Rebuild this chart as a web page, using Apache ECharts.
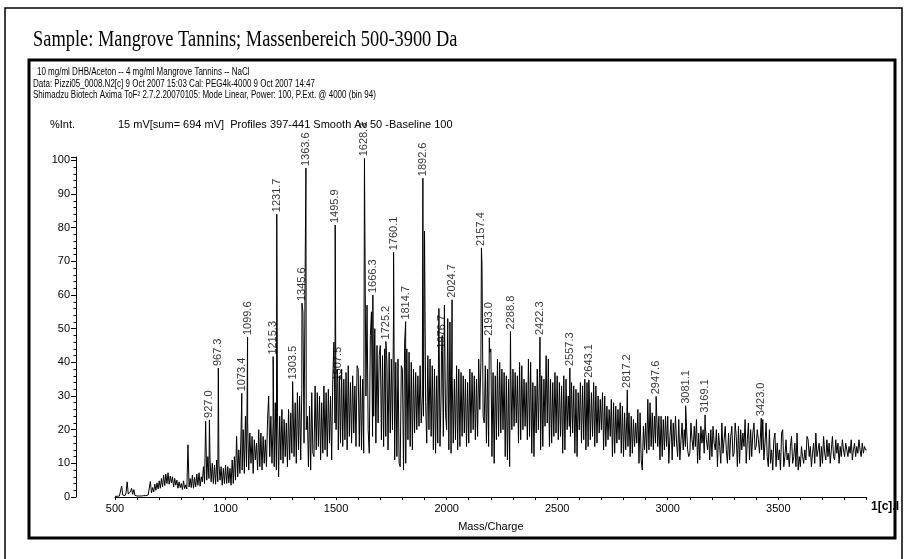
<!DOCTYPE html>
<html>
<head>
<meta charset="utf-8">
<script src="https://cdn.jsdelivr.net/npm/echarts@6/dist/echarts.min.js"></script>
<style>
html,body{margin:0;padding:0;background:#fff;}
#c{width:906px;height:559px;}
</style>
</head>
<body>
<div id="c"></div>
<script>
// ---- data ----
const noiseStart = 500;   // Da
const noiseStep = 5;      // Da
const noiseInt = [
  0.2,0.3,0.2,0.4,0.3,0.5,3.2,0.6,1.0,0.4, 1.2,4.5,0.9,0.6,1.5,2.6,0.8,2.2,0.5,0.3,
  0.3,0.5,0.3,0.4,0.3,0.5,0.4,0.6,0.4,0.5, 0.6,1.0,4.6,1.2,2.8,1.5,3.8,2.0,4.2,2.4,
  4.8,2.6,5.5,3.0,6.5,3.4,6.8,4.0,7.2,3.8, 6.2,4.2,6.0,3.0,5.5,3.5,5.0,2.6,4.5,2.8,
  4.0,2.2,4.8,2.5,3.6,2.4,15.5,3.0,5.5,2.8, 6.5,2.6,5.8,3.0,6.8,3.5,7.2,3.2,6.0,4.5,
  9.0,4.0,22.5,5.0,12.0,5.5,11.0,4.5,10.0,4.0, 9.5,3.8,11.0,4.5,10.0,5.0,9.0,3.5,8.5,4.0,
  9.5,4.0,9.0,4.2,8.5,3.5,11.0,4.0,12.0,5.0, 18.0,6.0,14.0,7.0,19.0,8.0,20.0,7.0,24.0,9.0,
  22,8,19,10,18,7,17,11,16,8, 20,9,19,8,18,10,17,9,23,30,
  12,24,10,22,9,28,8,25,6,24, 11,26,10,23,12,22,9,26,11,25,
  13,29,12,28,10,31,14,30,11,32, 55,16,67,20,24,9,27,8,31,13,
  12,33,14,31,15,30,11,28,13,33, 14,31,12,32,16,30,11,35,46,22,
  20,38,14,36,16,38,15,35,17,37, 14,39,18,34,16,36,19,33,15,39,
  38,15,36,14,35,13,82,30,57,20, 13,48,55,18,24,50,16,45,22,42,
  45,17,42,15,44,18,40,14,43,19, 41,20,55,11,40,12,41,10,9,39,
  38,8,46,10,44,17,43,15,40,14, 38,19,37,20,36,21,39,22,30,24,
  79,28,16,42,20,41,18,39,14,38, 13,36,16,56,15,30,48,18,57,25,
  20,53,14,52,13,36,16,35,17,39, 14,38,15,37,18,36,19,35,15,34,
  16,38,19,37,20,36,17,35,18,41, 26,40,69,24,22,39,16,38,15,43,
  44,12,37,10,36,17,41,18,40,19, 38,20,37,12,36,11,35,9,39,20,
  38,21,37,22,36,16,40,17,39,20, 35,21,34,17,41,18,40,13,34,12,
  33,19,38,20,37,14,36,15,35,21, 42,22,41,15,35,16,34,18,37,19,
  36,17,34,18,33,13,36,14,35,20, 30,21,18,34,19,33,13,32,12,31,
  20,34,16,33,17,35,14,34,15,32, 17,31,18,34,15,33,16,30,19,29,
  20,31,14,30,15,27,17,26,18,29, 12,28,13,27,16,26,17,28,13,27,
  12,25,14,24,15,25,12,24,13,23, 15,22,16,26,10,25,11,8,21,14,
  22,13,29,14,28,15,25,14,24,16, 25,15,24,11,24,12,23,14,24,15,
  24,10,18,23,11,22,15,24,16,12, 23,11,17,22,14,20,15,21,14,12,
  13,22,17,14,21,15,23,10,19,11, 21,16,20,13,21,17,14,19,11,20,
  12,21,16,14,20,9,19,15,10,22, 13,17,21,14,10,19,11,18,21,12,
  13,22,18,9,21,10,20,14,19,15, 23,10,17,22,11,20,12,19,22,14,
  15,20,17,13,19,14,23,11,16,22, 12,9,20,10,14,8,17,19,9,16,
  11,14,8,19,20,9,12,17,11,13, 9,15,18,10,12,16,9,19,8,12,
  9,15,12,10,14,11,18,17,12,15, 9,13,16,10,19,12,14,16,9,15,
  10,18,13,11,17,12,16,10,14,18, 12,11,17,13,16,10,15,12,17,14,
  12,16,14,12,15,13,17,11,14,16, 12,15,13,17,14,12,16,13,15,14,
  14
];
const peakMass = [927.0,967.3,1073.4,1099.6,1215.3,1231.7,1303.5,1345.6,1363.6,1495.9,1507.5,1628.3,1666.3,1725.2,1760.1,1814.7,1892.6,1976.7,2024.7,2157.4,2193.0,2288.8,2422.3,2557.3,2643.1,2817.2,2947.6,3081.1,3169.1,3423.0];
const peakInt  = [22.9,38.3,30.8,47.5,41.7,84,34.3,57.6,97.7,80.8,34,100.6,60,46.2,72.7,52.1,94.7,43.5,58.6,74,47.3,49.2,47.5,38.3,34.8,31.8,29.9,27.1,24.4,23.4];
const peakLabel = ["927.0","967.3","1073.4","1099.6","1215.3","1231.7","1303.5","1345.6","1363.6","1495.9","1507.5","1628.3","1666.3","1725.2","1760.1","1814.7","1892.6","1976.7","2024.7","2157.4","2193.0","2288.8","2422.3","2557.3","2643.1","2817.2","2947.6","3081.1","3169.1","3423.0"];
const xMin = 500, xMax = 3900, xTick = 100, xLabelEvery = 500;
const yMin = 0, yMax = 101, yTick = 10;

const titleText = "Sample: Mangrove Tannins; Massenbereich 500-3900 Da";
const headerLines = [
  "10 mg/ml DHB/Aceton -- 4 mg/ml Mangrove Tannins -- NaCl",
  "Data: Pizzi05_0008.N2[c] 9 Oct 2007 15:03 Cal: PEG4k-4000 9 Oct 2007 14:47",
  "Shimadzu Biotech Axima ToF\u00B2 2.7.2.20070105: Mode Linear, Power: 100, P.Ext. @ 4000 (bin 94)"
];
const yName = "%Int.";
const infoLine = "15 mV[sum= 694 mV]  Profiles 397-441 Smooth Av 50 -Baseline 100";
const xName = "Mass/Charge";
const cornerTag = "1[c].I";

// ---- build series ----
const pts = [];
noiseInt.forEach((v, i) => pts.push([noiseStart + i * noiseStep, v]));
peakMass.forEach((m, i) => pts.push([m, peakInt[i]]));
pts.sort((a, b) => a[0] - b[0]);
const peakPts = peakMass.map((m, i) => ({ value: [m, peakInt[i]], name: peakLabel[i] }));

const chart = echarts.init(document.getElementById('c'), null, { renderer: 'canvas' });
const FONT = 'Liberation Sans, Arial, sans-serif';
const plotTop = 157, plotH = 340;
chart.setOption({
  animation: false,
  backgroundColor: '#fff',
  grid: [
    { left: 76, top: plotTop, width: 10, height: plotH },
    { left: 115, top: plotTop, width: 751.7, height: plotH }
  ],
  xAxis: [
    { gridIndex: 0, type: 'value', show: false, min: 0, max: 1 },
    {
      gridIndex: 1, type: 'value', min: xMin, max: xMax, interval: xTick,
      axisLine: { lineStyle: { color: '#000', width: 1 } },
      axisTick: { length: 3, lineStyle: { color: '#000' } },
      splitLine: { show: false },
      axisLabel: {
        color: '#000', fontFamily: FONT, fontSize: 11, margin: 6,
        formatter: v => (v % xLabelEvery === 0 ? String(v) : '')
      },
      name: xName, nameLocation: 'middle', nameGap: 24,
      nameTextStyle: { color: '#000', fontFamily: FONT, fontSize: 11 }
    }
  ],
  yAxis: [
    {
      gridIndex: 0, type: 'value', min: yMin, max: yMax, interval: yTick,
      axisLine: { show: true, lineStyle: { color: '#000', width: 1 } },
      axisTick: { show: true, length: 5, lineStyle: { color: '#000' } },
      minorTick: { show: true, splitNumber: 5, length: 2.5, lineStyle: { color: '#000' } },
      splitLine: { show: false },
      axisLabel: {
        color: '#000', fontFamily: FONT, fontSize: 11, margin: 6,
        formatter: v => (v % yTick === 0 ? String(v) : '')
      }
    },
    { gridIndex: 1, type: 'value', min: yMin, max: yMax, show: false }
  ],
  series: [
    {
      type: 'line', xAxisIndex: 1, yAxisIndex: 1, data: pts,
      symbol: 'none', sampling: null, silent: true,
      lineStyle: { color: '#000', width: 1 }
    },
    {
      type: 'scatter', xAxisIndex: 1, yAxisIndex: 1, data: peakPts,
      symbolSize: 0, silent: true,
      label: {
        show: true, position: 'top', distance: 2, rotate: 90,
        align: 'left', verticalAlign: 'middle',
        color: '#000', fontFamily: FONT, fontSize: 11,
        formatter: p => p.name
      }
    }
  ],
  graphic: [
    { type: 'rect', shape: { x: 5, y: 8, width: 897, height: 560 }, style: { fill: 'none', stroke: '#000', lineWidth: 1.5 } },
    { type: 'rect', shape: { x: 29, y: 60, width: 866, height: 478 }, style: { fill: 'none', stroke: '#000', lineWidth: 3 } },
    { type: 'text', x: 33, y: 40, scaleX: 0.8, style: { text: titleText, font: '23px "Liberation Serif", "Times New Roman", serif', fill: '#000', textVerticalAlign: 'middle' } },
    { type: 'text', x: 37, y: 72, scaleX: 0.8, style: { text: headerLines[0], font: '10px ' + FONT, fill: '#000', textVerticalAlign: 'middle' } },
    { type: 'text', x: 33, y: 84, scaleX: 0.8, style: { text: headerLines[1], font: '10px ' + FONT, fill: '#000', textVerticalAlign: 'middle' } },
    { type: 'text', x: 33, y: 95.5, scaleX: 0.8, style: { text: headerLines[2], font: '10px ' + FONT, fill: '#000', textVerticalAlign: 'middle' } },
    { type: 'text', x: 50, y: 125, style: { text: yName, font: '11px ' + FONT, fill: '#000', textVerticalAlign: 'middle' } },
    { type: 'text', x: 118, y: 125, style: { text: infoLine, font: '11px ' + FONT, fill: '#000', textVerticalAlign: 'middle' } },
    { type: 'text', x: 871, y: 507, style: { text: cornerTag, font: 'bold 12px ' + FONT, fill: '#000', textVerticalAlign: 'middle' } }
  ]
});
</script>
</body>
</html>
